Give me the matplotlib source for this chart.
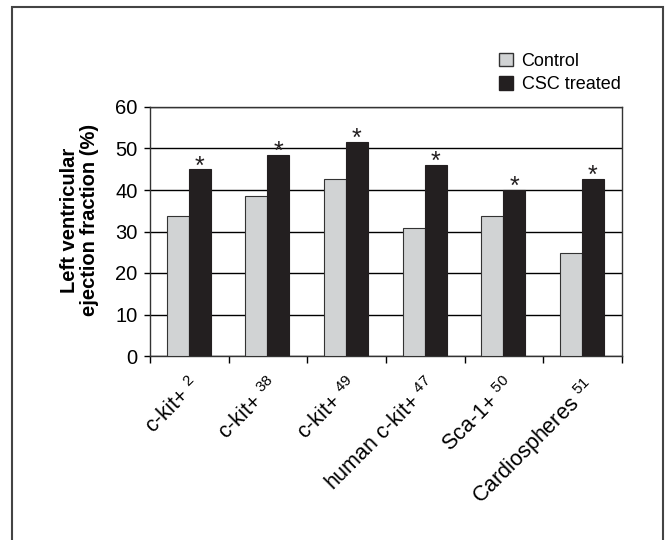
import numpy as np
import matplotlib
matplotlib.use("Agg")
import matplotlib.pyplot as plt
from matplotlib.patches import Rectangle, Patch

plt.rcParams['font.family'] = ['Liberation Sans', 'DejaVu Sans']
plt.rcParams['mathtext.fontset'] = 'custom'
plt.rcParams['mathtext.rm'] = 'Liberation Sans'

# Data
categories = ["c-kit+", "c-kit+", "c-kit+", "human c-kit+", "Sca-1+", "Cardiospheres"]
refs = ["2", "38", "49", "47", "50", "51"]
control = [33.8, 38.5, 42.7, 30.8, 33.8, 24.7]
csc_treated = [45.0, 48.5, 51.6, 46.0, 40.0, 42.7]
yticks = [0, 10, 20, 30, 40, 50, 60]

ctrl_color = "#d1d3d4"
csc_color = "#231f20"

fig = plt.figure(figsize=(6.65, 5.4), dpi=100)
ax = fig.add_axes([150 / 665, 1 - 356 / 540, 472 / 665, 249 / 540])

x = np.arange(len(categories)) + 0.5
w = 0.28
ax.bar(x - w / 2 - 0.01, control, width=w, color=ctrl_color, edgecolor="#333333", linewidth=0.8, zorder=3)
ax.bar(x + w / 2 - 0.01, csc_treated, width=w, color=csc_color, edgecolor=csc_color, linewidth=0.8, zorder=3)

# significance stars
for xi, v in zip(x, csc_treated):
    ax.annotate("*", (xi + w / 2 - 0.01, v), xytext=(0, -3), textcoords="offset points",
                ha="center", va="baseline", fontsize=18, color="#231f20")

ax.set_xlim(0, 6)
ax.set_ylim(0, 60)
ax.set_yticks(yticks)
ax.set_yticklabels([str(t) for t in yticks], fontsize=14.5)
ax.yaxis.grid(True, color="black", linewidth=1.0, zorder=0)
ax.set_axisbelow(True)

ax.set_xticks(np.arange(0, 7))
ax.set_xticklabels([])
ax.set_xticks(x, minor=True)
labels = [f"{c} $^{{{r}}}$" for c, r in zip(categories, refs)]
ax.set_xticklabels(labels, minor=True, rotation=45, ha="right", va="top",
                   rotation_mode="anchor", fontsize=15.5)
ax.tick_params(axis="x", which="minor", length=0, pad=13)
ax.tick_params(axis="x", which="major", direction="out", length=5, width=1)
ax.tick_params(axis="y", direction="out", length=4, width=1, pad=5)

for s in ax.spines.values():
    s.set_color("#333333")
    s.set_linewidth(1.0)

ax.set_ylabel("Left ventricular\nejection fraction (%)", fontsize=14.5,
              fontweight="bold", linespacing=1.05)
ax.yaxis.set_label_coords(-0.108, 0.545)

handles = [Patch(facecolor=ctrl_color, edgecolor="#333333", label="Control"),
           Patch(facecolor=csc_color, edgecolor=csc_color, label="CSC treated")]
fig.legend(handles=handles, loc="upper left", bbox_to_anchor=(490 / 665, 1 - 44 / 540),
           frameon=False, fontsize=13, handlelength=0.75, handleheight=0.75,
           handletextpad=0.5, labelspacing=0.35, borderpad=0)

# outer frame
fig.patches.append(Rectangle((12 / 665, -0.1), 651 / 665, 1.1 - 7 / 540,
                             transform=fig.transFigure, fill=False,
                             edgecolor="#444444", linewidth=1.5))

fig.savefig("out.png", dpi=100)
